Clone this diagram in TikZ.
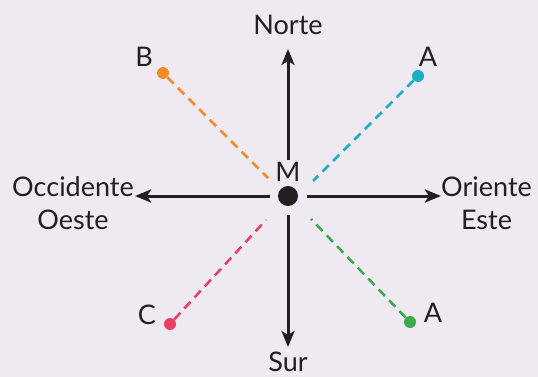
\documentclass[tikz,border=0pt]{standalone}
\usepackage{fontspec}
\setmainfont{Lato}
\usetikzlibrary{arrows.meta}
\definecolor{bg}{HTML}{EFE9F1}
\definecolor{ink}{HTML}{231F20}
\definecolor{corange}{HTML}{F28C28}
\definecolor{cteal}{HTML}{1BAFC4}
\definecolor{cpink}{HTML}{EC3E63}
\definecolor{cgreen}{HTML}{3BAA4A}
\begin{document}
\begin{tikzpicture}[x=1pt,y=-1pt,
  axis/.style={draw=ink,line width=3pt,-{Stealth[length=16pt,width=13pt,inset=4pt]}},
  dir/.style={line width=2.5pt,dash pattern=on 9pt off 6pt},
  lbl/.style={font=\fontsize{27}{33}\selectfont,text=ink,inner sep=0pt},
  pt/.style={circle,inner sep=0pt,minimum size=12pt}]
\fill[bg] (0,0) rectangle (538,377);
\useasboundingbox (0,0) rectangle (538,377);
\node[circle,fill=ink,inner sep=0pt,minimum size=20pt] (M) at (288,196) {};
\node[lbl] (Ml) at (288,172) {M};
\coordinate (cu) at (288,160);
\coordinate (cd) at (288,215);
\coordinate (cl) at (270,196);
\coordinate (cr) at (307,196);
\coordinate (tu) at (288,49);
\coordinate (td) at (288,347);
\coordinate (tl) at (135,196);
\coordinate (tr) at (441,196);
\draw[axis] (cu) -- (tu);
\draw[axis] (cd) -- (td);
\draw[axis] (cl) -- (tl);
\draw[axis] (cr) -- (tr);
\node[lbl] (N) at (288,25) {Norte};
\node[lbl] (S) at (288,362) {Sur};
\node[lbl,align=center,anchor=east] (W) at (134,203) {Occidente\\Oeste};
\node[lbl,align=center,anchor=west] (E) at (441,203) {Oriente\\Este};
% points
\node[pt,fill=corange] (B) at (163,73) {};
\node[pt,fill=cteal] (A1) at (418,76) {};
\node[pt,fill=cpink] (C) at (170,324) {};
\node[pt,fill=cgreen] (A2) at (410,322) {};
\coordinate (eB) at (268,178);
\coordinate (eA1) at (313,181);
\coordinate (eC) at (266,220);
\coordinate (eA2) at (311,219);
\draw[dir,corange] (B) -- (eB);
\draw[dir,cteal] (A1) -- (eA1);
\draw[dir,cpink] (C) -- (eC);
\draw[dir,cgreen] (A2) -- (eA2);
\node[lbl] (lB) at (144,57) {B};
\node[lbl] (lA1) at (428,57) {A};
\node[lbl] (lC) at (147,315) {C};
\node[lbl] (lA2) at (433,313) {A};
\end{tikzpicture}
\end{document}
